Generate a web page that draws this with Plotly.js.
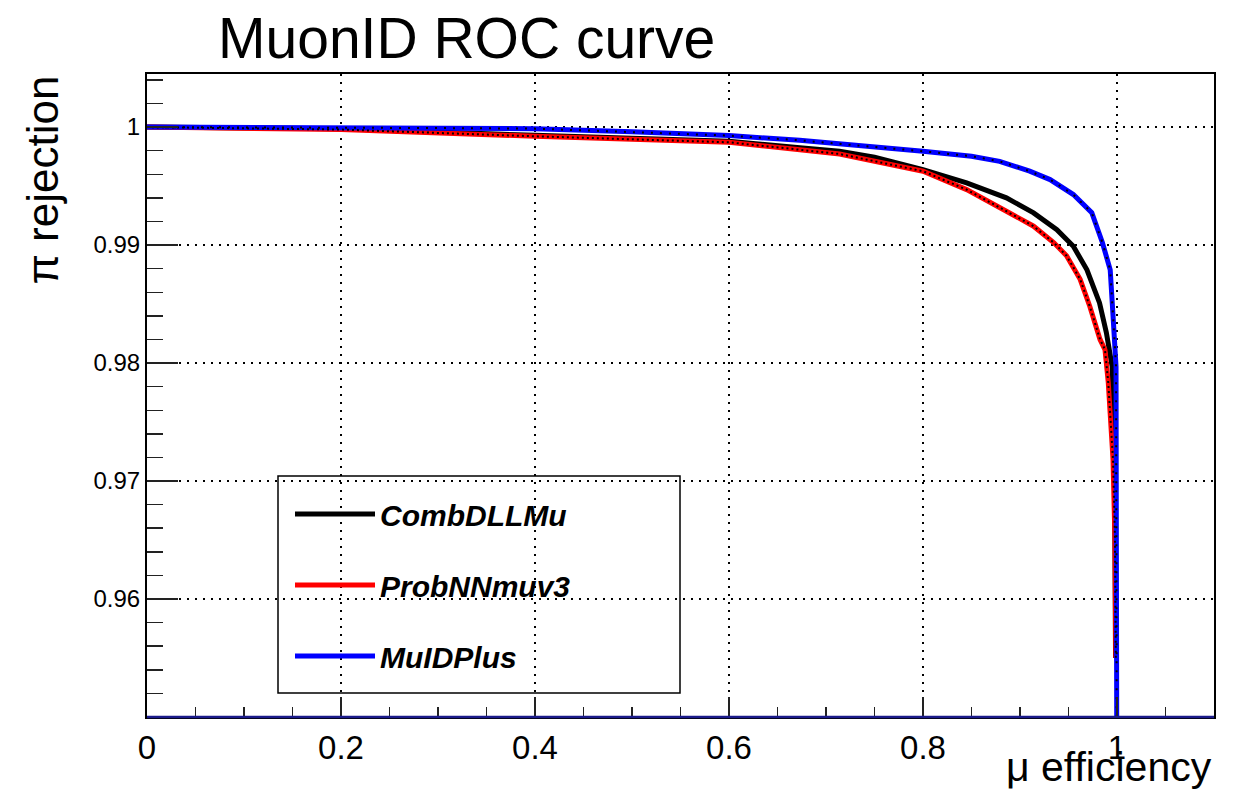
<!DOCTYPE html>
<html>
<head>
<meta charset="utf-8">
<script src="https://cdn.plot.ly/plotly-3.0.1.min.js"></script>
<style>
  html, body { margin: 0; padding: 0; background: #ffffff; }
  #chart { width: 1236px; height: 793px; }
</style>
</head>
<body>
<div id="chart"></div>
<script>
// ---- data ----
const seriesNames = ["CombDLLMu", "ProbNNmuv3", "MuIDPlus"];
const seriesColors = ["#000000", "#ff0000", "#0000ff"];

const effComb = [0, 0.2, 0.4, 0.6, 0.673, 0.714, 0.75, 0.8, 0.845, 0.886, 0.914, 0.938, 0.955, 0.969, 0.982, 0.989, 0.995, 0.9975, 0.9985];
const rejComb = [1.0, 0.99985, 0.9993, 0.9988, 0.99824, 0.99795, 0.99745, 0.9964, 0.99527, 0.994, 0.99273, 0.99131, 0.9899, 0.9879, 0.9851, 0.9826, 0.9797, 0.970, 0.955];

const effProb = [0, 0.2, 0.4, 0.6, 0.673, 0.714, 0.8, 0.845, 0.886, 0.914, 0.935, 0.948, 0.962, 0.972, 0.9825, 0.9876, 0.991, 0.9928, 0.9959, 0.9979, 0.9988];
const rejProb = [1.0, 0.99979, 0.99922, 0.99871, 0.99808, 0.99772, 0.99626, 0.9947, 0.99287, 0.9916, 0.99019, 0.9891, 0.9871, 0.9848, 0.9820, 0.98114, 0.97835, 0.97606, 0.97182, 0.96504, 0.955];

const effMuID = [0, 0.1, 0.2, 0.3, 0.4, 0.5, 0.6, 0.673, 0.75, 0.8, 0.85, 0.879, 0.91, 0.931, 0.955, 0.974, 0.985, 0.993, 0.996, 0.999, 0.9997];
const rejMuID = [1.0, 0.99999, 0.99995, 0.99992, 0.99987, 0.9996, 0.99928, 0.99888, 0.99835, 0.99795, 0.99753, 0.9971, 0.99626, 0.99555, 0.99428, 0.99275, 0.9902, 0.9879, 0.9839, 0.9797, 0.95];

const yTickVals = [0.96, 0.97, 0.98, 0.99, 1.0];
const yTickText = ["0.96", "0.97", "0.98", "0.99", "1"];
const xTickVals = [0, 0.2, 0.4, 0.6, 0.8, 1.0];
const xTickText = ["0", "0.2", "0.4", "0.6", "0.8", "1"];

const xs = [effComb, effProb, effMuID];
const ys = [rejComb, rejProb, rejMuID];

// ---- traces ----
const traces = [];
for (let i = 0; i < 3; i++) {
  traces.push({
    x: xs[i], y: ys[i], type: "scatter", mode: "lines",
    name: seriesNames[i], legendgroup: "g" + i,
    line: { color: seriesColors[i], width: 5 },
    hoverinfo: "skip"
  });
}
// black point-markers of the original graphs, drawn as a dotted overlay
traces.push({ x: effProb, y: rejProb, type: "scatter", mode: "lines", showlegend: false,
  line: { color: "#000000", width: 2, dash: "2px,3px" }, hoverinfo: "skip" });
traces.push({ x: effMuID, y: rejMuID, type: "scatter", mode: "lines", showlegend: false,
  line: { color: "#000000", width: 2, dash: "2px,7px" }, hoverinfo: "skip" });

const FONT = "Liberation Sans, Arial, Helvetica, sans-serif";
const L = 147, R = 22, T = 74, B = 76;
const W = 1236, H = 793;
const pw = W - L - R, ph = H - T - B;
const px = v => (v - L) / pw;        // pixel -> paper x
const py = v => (H - B - v) / ph;    // pixel -> paper y

const layout = {
  width: W, height: H,
  margin: { l: L, r: R, t: T, b: B },
  paper_bgcolor: "#ffffff", plot_bgcolor: "#ffffff",
  font: { family: FONT, color: "#000000" },
  showlegend: true,
  title: {
    text: "MuonID ROC curve",
    font: { family: FONT, size: 57, color: "#000000" },
    x: 218 / W, xanchor: "left", xref: "container",
    y: 1 - 38 / H, yanchor: "middle", yref: "container"
  },
  xaxis: {
    range: [0, 1.1], autorange: false,
    tickmode: "array", tickvals: xTickVals, ticktext: xTickText,
    ticks: "inside", ticklen: 20, tickwidth: 1.5, tickcolor: "#222222",
    tickfont: { family: FONT, size: 33, color: "#000000" },
    showgrid: true, gridcolor: "#000000", gridwidth: 1.5, griddash: "2px,6px",
    minor: { tickmode: "linear", tick0: 0, dtick: 0.05, ticks: "inside", ticklen: 10, tickwidth: 1.5, tickcolor: "#222222", showgrid: false },
    showline: true, linecolor: "#000000", linewidth: 2, mirror: true,
    zeroline: false, fixedrange: true
  },
  yaxis: {
    range: [0.95, 1.0045], autorange: false,
    tickmode: "array", tickvals: yTickVals, ticktext: yTickText,
    ticks: "inside", ticklen: 31, tickwidth: 1.5, tickcolor: "#222222",
    tickfont: { family: FONT, size: 24, color: "#000000" },
    showgrid: true, gridcolor: "#000000", gridwidth: 1.5, griddash: "2px,6px",
    minor: { tickmode: "linear", tick0: 0.95, dtick: 0.002, ticks: "inside", ticklen: 16, tickwidth: 1.5, tickcolor: "#222222", showgrid: false },
    showline: true, linecolor: "#000000", linewidth: 2, mirror: true,
    zeroline: false, fixedrange: true
  },
  legend: {
    x: px(290), y: py(488), xanchor: "left", yanchor: "top",
    bgcolor: "rgba(0,0,0,0)", borderwidth: 0,
    font: { family: FONT, size: 30, color: "#000000", weight: "bold", style: "italic" },
    traceorder: "grouped", tracegroupgap: 29, itemwidth: 80
  },
  shapes: [
    { type: "rect", xref: "paper", yref: "paper", x0: px(278), x1: px(680), y0: py(693), y1: py(476),
      line: { color: "#000000", width: 1.5 }, fillcolor: "#ffffff", layer: "between" },
    { type: "line", xref: "paper", yref: "paper", x0: 0, x1: 1, y0: 0, y1: 0,
      line: { color: "#1a1a8a", width: 2.5 }, layer: "above" }
  ],
  annotations: [
    { text: "\u03c0 rejection", xref: "paper", yref: "paper", x: px(42), y: py(74),
      xanchor: "center", yanchor: "top", textangle: -90, showarrow: false,
      font: { family: FONT, size: 44, color: "#000000" } },
    { text: "\u03bc efficiency", xref: "paper", yref: "paper", x: px(1214), y: py(792),
      xanchor: "right", yanchor: "bottom", showarrow: false,
      font: { family: FONT, size: 41, color: "#000000" } }
  ]
};

Plotly.newPlot("chart", traces, layout, { displayModeBar: false, staticPlot: true });
</script>
</body>
</html>
